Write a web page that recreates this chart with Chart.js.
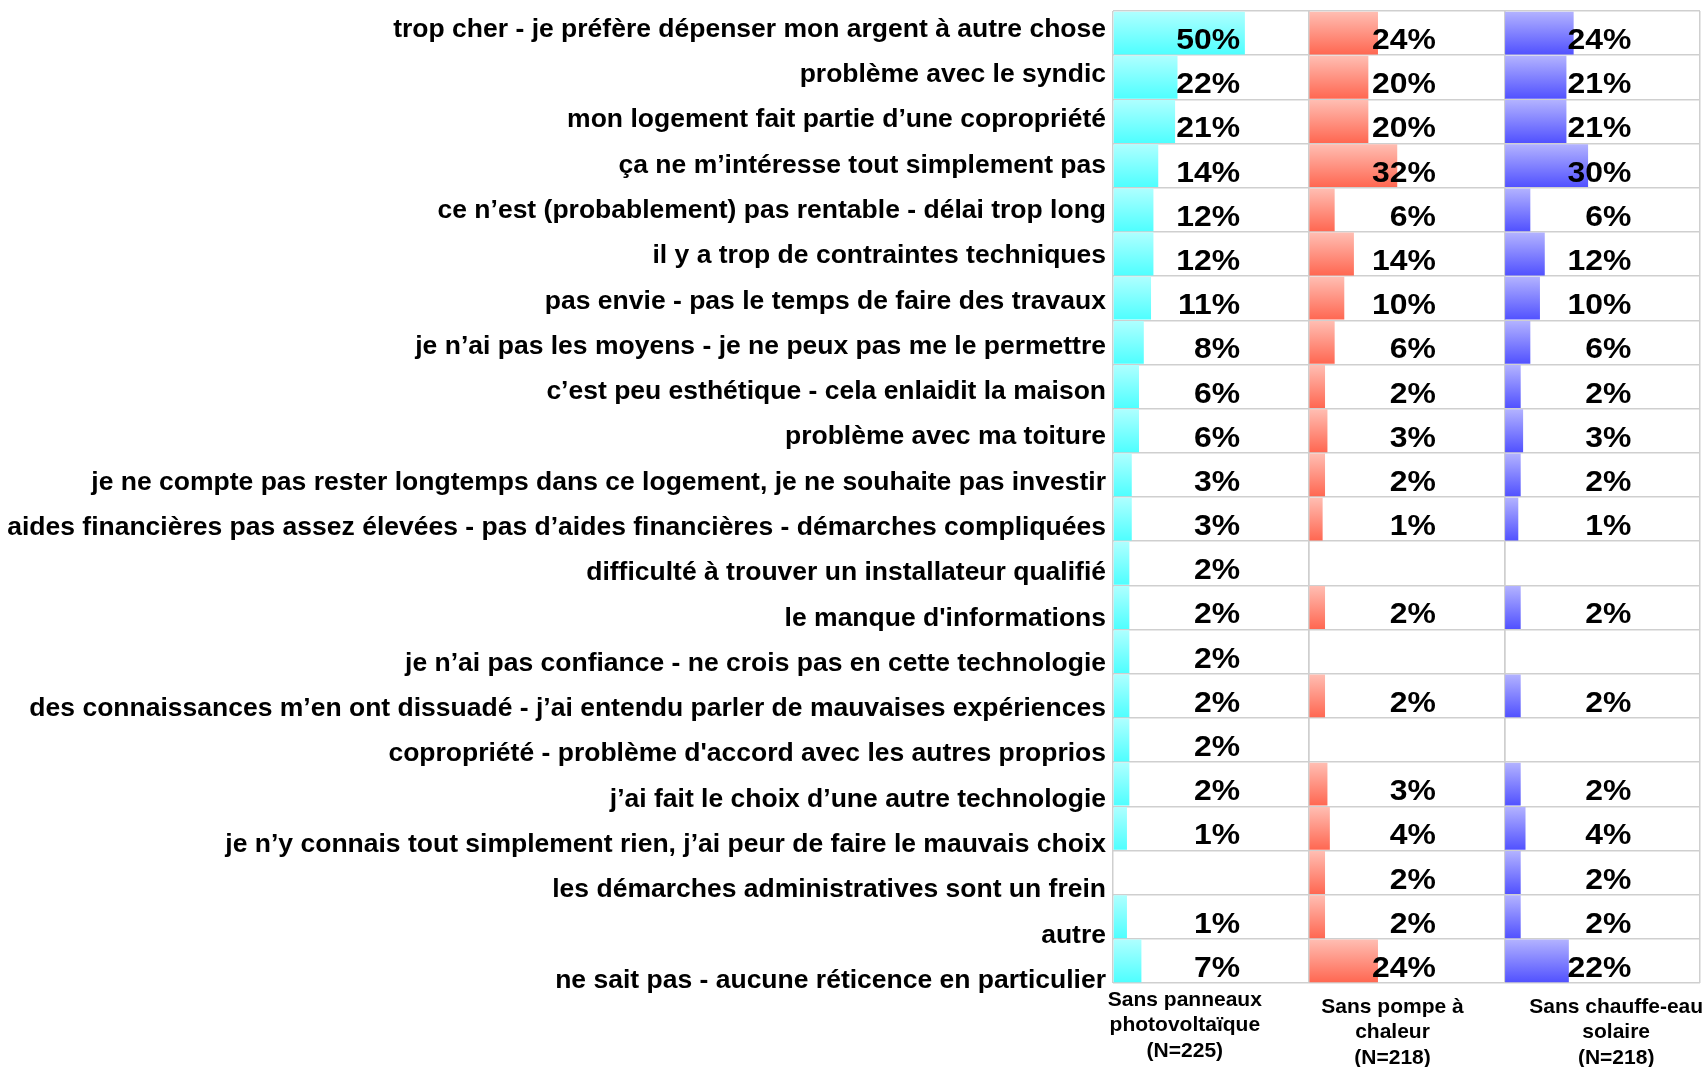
<!DOCTYPE html>
<html>
<head>
<meta charset="utf-8">
<script src="https://cdn.jsdelivr.net/npm/chart.js@4"></script>
<style>
  html, body { margin: 0; padding: 0; background: #fff; }
  #wrap { width: 1706px; height: 1067px; }
</style>
</head>
<body>
<div id="wrap"><canvas id="chart"></canvas></div>
<script>
// raisons de ne pas s'équiper
const categories = [
    'trop cher - je préfère dépenser mon argent à autre chose',
    'problème avec le syndic',
    'mon logement fait partie d’une copropriété',
    'ça ne m’intéresse tout simplement pas',
    'ce n’est (probablement) pas rentable - délai trop long',
    'il y a trop de contraintes techniques',
    'pas envie - pas le temps de faire des travaux',
    'je n’ai pas les moyens - je ne peux pas me le permettre',
    'c’est peu esthétique - cela enlaidit la maison',
    'problème avec ma toiture',
    'je ne compte pas rester longtemps dans ce logement, je ne souhaite pas investir',
    'aides financières pas assez élevées - pas d’aides financières - démarches compliquées',
    'difficulté à trouver un installateur qualifié',
    'le manque d\'informations',
    'je n’ai pas confiance - ne crois pas en cette technologie',
    'des connaissances m’en ont dissuadé - j’ai entendu parler de mauvaises expériences',
    'copropriété - problème d\'accord avec les autres proprios',
    'j’ai fait le choix d’une autre technologie',
    'je n’y connais tout simplement rien, j’ai peur de faire le mauvais choix',
    'les démarches administratives sont un frein',
    'autre',
    'ne sait pas - aucune réticence en particulier'
];

const panneaux = [50, 22, 21, 14, 12, 12, 11, 8, 6, 6, 3, 3, 2, 2, 2, 2, 2, 2, 1, null, 1, 7];
const pompe    = [24, 20, 20, 32, 6, 14, 10, 6, 2, 3, 2, 1, null, 2, null, 2, null, 3, 4, 2, 2, 24];
const chauffe  = [24, 21, 21, 30, 6, 12, 10, 6, 2, 3, 2, 1, null, 2, null, 2, null, 2, 4, 2, 2, 22];

const panelTitles = [
    ['Sans panneaux', 'photovoltaïque', '(N=225)'],
    ['Sans pompe à', 'chaleur', '(N=218)'],
    ['Sans chauffe-eau', 'solaire', '(N=218)']
];

const X_MIN = -4.8, X_MAX = 76.5;
const LABEL_AT = 48;
const GRID = '#cfcfcf';
const FONT = '"Liberation Sans", Arial, sans-serif';

Chart.defaults.font.family = FONT;
Chart.defaults.color = '#000';

function gradientFill(top, bottom) {
    return (ctx) => {
        const chart = ctx.chart;
        const y = chart.scales.y;
        if (!y || ctx.type !== 'data' || !chart.chartArea) return bottom;
        const c = y.getPixelForValue(ctx.dataIndex);
        const h = y.height / categories.length / 2;
        if (!isFinite(c) || !isFinite(h) || h <= 0) return bottom;
        const g = chart.ctx.createLinearGradient(0, c - h, 0, c + h);
        g.addColorStop(0, top);
        g.addColorStop(1, bottom);
        return g;
    };
}

function panelAxis() {
    return {
        type: 'linear',
        position: 'bottom',
        stack: 'panels',
        min: X_MIN,
        max: X_MAX,
        afterBuildTicks: s => { s.ticks = [{ value: X_MIN }, { value: X_MAX }]; },
        afterFit: s => { s.height = 0; },
        ticks: { display: false },
        grid: { color: GRID, lineWidth: 1.5, drawTicks: false },
        border: { display: false }
    };
}

const valueLabels = {
    id: 'valueLabels',
    afterDatasetsDraw(chart) {
        const ctx = chart.ctx;
        const y = chart.scales.y;
        ctx.save();
        ctx.fillStyle = '#000';
        ctx.font = 'bold 29px ' + FONT;
        ctx.textAlign = 'right';
        ctx.textBaseline = 'middle';
        chart.data.datasets.forEach(ds => {
            const x = chart.scales[ds.xAxisID].getPixelForValue(LABEL_AT);
            ds.data.forEach((v, i) => {
                if (v === null) return;
                ctx.save();
                ctx.translate(x, y.getPixelForValue(i) + 8);
                ctx.scale(1.1, 1);
                ctx.fillText(v + '%', 0, 0);
                ctx.restore();
            });
        });
        ctx.restore();
    }
};

const panelTitlePlugin = {
    id: 'panelTitles',
    afterDraw(chart) {
        const ctx = chart.ctx;
        const shifts = [[-26, 17], [-14, 24], [14, 24]];
        ctx.save();
        ctx.fillStyle = '#000';
        ctx.font = 'bold 21px ' + FONT;
        ctx.textAlign = 'center';
        ctx.textBaseline = 'middle';
        ['x1', 'x2', 'x3'].forEach((id, k) => {
            const s = chart.scales[id];
            const cx = (s.left + s.right) / 2 + shifts[k][0];
            const top = chart.chartArea.bottom + shifts[k][1];
            panelTitles[k].forEach((line, j) => ctx.fillText(line, cx, top + j * 25.5));
        });
        ctx.restore();
    }
};

new Chart(document.getElementById('chart'), {
    type: 'bar',
    data: {
        labels: categories,
        datasets: [
            { data: panneaux, xAxisID: 'x1', backgroundColor: gradientFill('#b0ffff', '#4dffff') },
            { data: pompe, xAxisID: 'x2', backgroundColor: gradientFill('#ffbfb4', '#ff6650') },
            { data: chauffe, xAxisID: 'x3', backgroundColor: gradientFill('#b4b4ff', '#5050ff') }
        ]
    },
    options: {
        indexAxis: 'y',
        responsive: true,
        maintainAspectRatio: false,
        animation: false,
        layout: { padding: { left: 0, right: 6, top: 11, bottom: 84 } },
        datasets: {
            bar: { grouped: false, base: X_MIN, categoryPercentage: 1, barPercentage: 0.97, borderWidth: 0 }
        },
        plugins: { legend: { display: false }, tooltip: { enabled: false } },
        scales: {
            y: {
                type: 'category',
                position: 'left',
                afterFit: s => { s.width = 0; s.paddingTop = 0; s.paddingBottom = 0; },
                ticks: { display: false },
                grid: { color: GRID, lineWidth: 1.5, drawTicks: false, offset: true },
                border: { display: false }
            },
            yl: {
                type: 'linear',
                position: 'left',
                offset: false,
                reverse: true,
                min: -0.41,
                max: 21.054,
                afterBuildTicks: s => { s.ticks = categories.map((c, i) => ({ value: i })); },
                afterFit: s => { s.width = 1113; s.paddingTop = 0; s.paddingBottom = 0; },
                ticks: {
                    autoSkip: false,
                    padding: 7,
                    color: '#000',
                    font: { size: 26.5, weight: 'bold' },
                    callback: v => categories[v]
                },
                grid: { display: false, drawTicks: false },
                border: { display: false }
            },
            x1: panelAxis(),
            x2: panelAxis(),
            x3: panelAxis()
        }
    },
    plugins: [valueLabels, panelTitlePlugin]
});
</script>
</body>
</html>
